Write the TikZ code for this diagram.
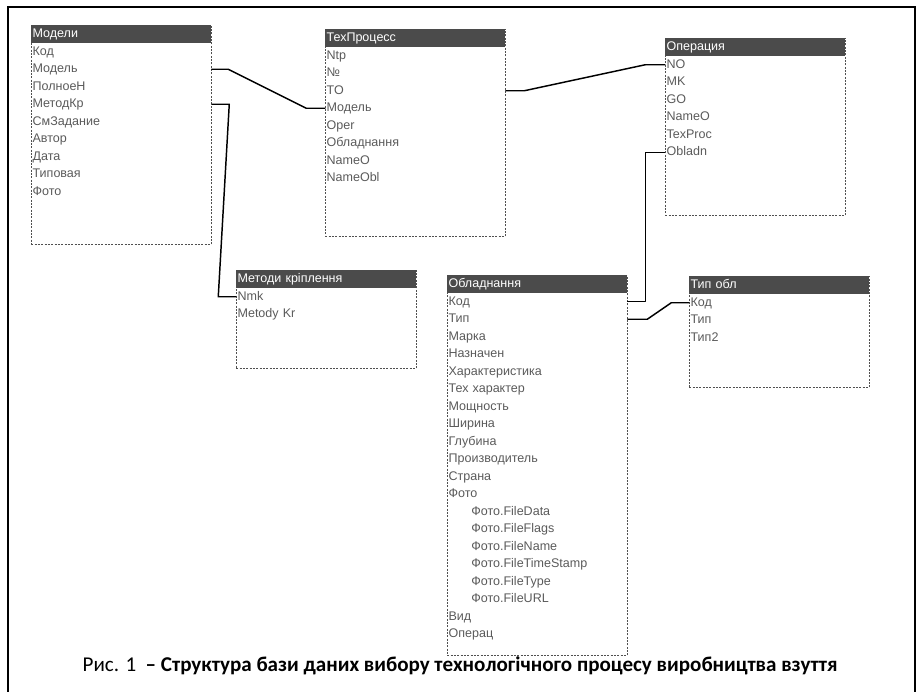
\documentclass[tikz,border=0pt]{standalone}
\usepackage{fontspec}
\setmainfont{Liberation Sans}
\newfontfamily\capfont{Carlito}
\usepackage{xcolor}
\usetikzlibrary{positioning}

\definecolor{hdrgray}{HTML}{4B4B4B}
\definecolor{fldgray}{HTML}{5A5A5A}
\definecolor{framegray}{HTML}{505050}

\begin{document}
\begin{tikzpicture}[x=0.75pt, y=-0.75pt,
      node distance=0pt,
      tbl/.style={draw=framegray, dash pattern=on 1.5pt off 1pt, line width=.4pt,
                  anchor=north west, minimum width=135pt, inner sep=0pt},
      hdr/.style={fill=hdrgray, text=white, anchor=north, text width=133pt,
                  minimum height=13.5pt, inner xsep=1pt, inner ysep=0pt, outer sep=0pt,
                  text height=7pt, text depth=2pt,
                  align=left, font=\fontsize{9.4}{10}\selectfont},
      fld/.style={text=fldgray, text width=133pt, minimum height=13.125pt,
                  inner xsep=1pt, inner ysep=0pt, outer sep=0pt, align=left,
                  text height=7pt, text depth=2pt,
                  font=\fontsize{9.4}{10}\selectfont},
      subfld/.style={fld, execute at begin node={\hspace*{17pt}}},
      link/.style={line width=1.1pt, line join=round},
      border/.style={line width=1.1pt}]
    \useasboundingbox (0,0) rectangle (921,692);
    \draw[border] (8,692) -- (8,7) -- (915,7) -- (915,692);

    % Модели
    \node[tbl, minimum height=164.25pt] (modeli) at (31,25) {};
    \node[hdr] (modeli-h) at (modeli.north) {Модели};
    \node[fld, below=of modeli-h] (modeli-kod) {Код};
    \node[fld, below=of modeli-kod] (modeli-model) {Модель};
    \node[fld, below=of modeli-model] (modeli-poln) {ПолноеН};
    \node[fld, below=of modeli-poln] (modeli-metod) {МетодКр};
    \node[fld, below=of modeli-metod] (modeli-zad) {СмЗадание};
    \node[fld, below=of modeli-zad] (modeli-avtor) {Автор};
    \node[fld, below=of modeli-avtor] (modeli-data) {Дата};
    \node[fld, below=of modeli-data] (modeli-tip) {Типовая};
    \node[fld, below=of modeli-tip] (modeli-foto) {Фото};

    % ТехПроцесс
    \node[tbl, minimum height=155.25pt] (texp) at (325,29) {};
    \node[hdr] (texp-h) at (texp.north) {ТехПроцесс};
    \node[fld, below=of texp-h] (texp-ntp) {Ntp};
    \node[fld, below=of texp-ntp] (texp-no) {№};
    \node[fld, below=of texp-no] (texp-to) {TO};
    \node[fld, below=of texp-to] (texp-model) {Модель};
    \node[fld, below=of texp-model] (texp-oper) {Oper};
    \node[fld, below=of texp-oper] (texp-obl) {Обладнання};
    \node[fld, below=of texp-obl] (texp-nameo) {NameO};
    \node[fld, below=of texp-nameo] (texp-nameobl) {NameObl};

    % Операция
    \node[tbl, minimum height=132.75pt] (oper) at (665,38) {};
    \node[hdr] (oper-h) at (oper.north) {Операция};
    \node[fld, below=of oper-h] (oper-no) {NO};
    \node[fld, below=of oper-no] (oper-mk) {MK};
    \node[fld, below=of oper-mk] (oper-go) {GO};
    \node[fld, below=of oper-go] (oper-nameo) {NameO};
    \node[fld, below=of oper-nameo] (oper-texproc) {TexProc};
    \node[fld, below=of oper-texproc] (oper-obladn) {Obladn};

    % Методи кріплення
    \node[tbl, minimum height=73.5pt] (metody) at (236,270) {};
    \node[hdr] (metody-h) at (metody.north) {Методи кріплення};
    \node[fld, below=of metody-h] (metody-nmk) {Nmk};
    \node[fld, below=of metody-nmk] (metody-kr) {Metody Kr};

    % Обладнання
    \node[tbl, minimum height=285pt] (obl) at (447,275) {};
    \node[hdr] (obl-h) at (obl.north) {Обладнання};
    \node[fld, below=of obl-h] (obl-kod) {Код};
    \node[fld, below=of obl-kod] (obl-tip) {Тип};
    \node[fld, below=of obl-tip] (obl-marka) {Марка};
    \node[fld, below=of obl-marka] (obl-nazn) {Назначен};
    \node[fld, below=of obl-nazn] (obl-har) {Характеристика};
    \node[fld, below=of obl-har] (obl-texhar) {Тех характер};
    \node[fld, below=of obl-texhar] (obl-mosh) {Мощность};
    \node[fld, below=of obl-mosh] (obl-shir) {Ширина};
    \node[fld, below=of obl-shir] (obl-glub) {Глубина};
    \node[fld, below=of obl-glub] (obl-proizv) {Производитель};
    \node[fld, below=of obl-proizv] (obl-strana) {Страна};
    \node[fld, below=of obl-strana] (obl-foto) {Фото};
    \node[subfld, below=of obl-foto] (obl-fdata) {Фото.FileData};
    \node[subfld, below=of obl-fdata] (obl-fflags) {Фото.FileFlags};
    \node[subfld, below=of obl-fflags] (obl-fname) {Фото.FileName};
    \node[subfld, below=of obl-fname] (obl-fstamp) {Фото.FileTimeStamp};
    \node[subfld, below=of obl-fstamp] (obl-ftype) {Фото.FileType};
    \node[subfld, below=of obl-ftype] (obl-furl) {Фото.FileURL};
    \node[fld, below=of obl-furl] (obl-vid) {Вид};
    \node[fld, below=of obl-vid] (obl-operac) {Операц};

    % Тип обл
    \node[tbl, minimum height=83.25pt] (tip) at (689,276) {};
    \node[hdr] (tip-h) at (tip.north) {Тип обл};
    \node[fld, below=of tip-h] (tip-kod) {Код};
    \node[fld, below=of tip-kod] (tip-tip) {Тип};
    \node[fld, below=of tip-tip] (tip-tip2) {Тип2};

    % links
    \draw[link] (modeli-model.east) -- ++(17,0) -- ([xshift=-14.25pt]texp-model.west) -- (texp-model.west);
    \draw[link] (modeli-metod.east) -- ++(18,0) -- ([xshift=-13.5pt]metody-nmk.west) -- (metody-nmk.west);
    \draw[link] (texp-to.east) -- ++(19,0) -- ([xshift=-15pt]oper-no.west) -- (oper-no.west);
    \draw[link] (oper-obladn.west) -- ++(-20,0) |- (obl-kod.east);
    \draw[link] (obl-tip.east) -- ++(20,0) -- ([xshift=-13.5pt]tip-kod.west) -- (tip-kod.west);

    \node[font=\capfont\fontsize{15.8}{18}\selectfont] (caption) at (460,666)
      {Рис. 1 \ \textbf{– Структура бази даних вибору технологічного процесу виробництва взуття}};
  \end{tikzpicture}
\end{document}
